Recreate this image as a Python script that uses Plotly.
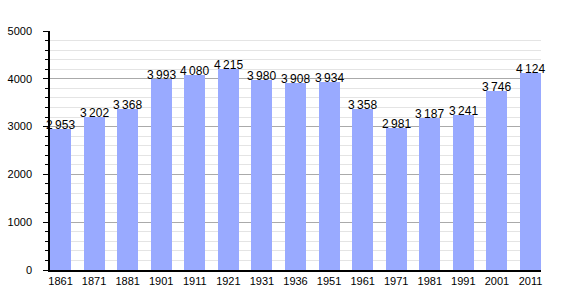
import plotly.graph_objects as go

years = ["1861", "1871", "1881", "1901", "1911", "1921", "1931", "1936", "1951",
         "1961", "1971", "1981", "1991", "2001", "2011"]
population = [2953, 3202, 3368, 3993, 4080, 4215, 3980, 3908, 3934,
              3358, 2981, 3187, 3241, 3746, 4124]
labels = [f"{v:,}".replace(",", "\u2009") for v in population]

bw = 21 / 33.5
xs = list(range(len(years)))
fig = go.Figure()
fig.add_trace(go.Bar(
    x=xs, y=population,
    marker=dict(color="#99AAFF", line=dict(width=0)),
    width=bw, offset=-bw / 2,
))
for x, v, t in zip(xs, population, labels):
    fig.add_annotation(x=x, y=v, text=t, showarrow=False, yanchor="middle",
                       yshift=4, font=dict(family="Liberation Sans, Arial", size=12, color="#000"))
fig.update_layout(
    width=570, height=300,
    margin=dict(l=50, r=29, t=31, b=30),
    plot_bgcolor="white", paper_bgcolor="white",
    showlegend=False,
    font=dict(family="Liberation Sans, Arial", size=11, color="#000"),
    xaxis=dict(
        tickmode="array", tickvals=xs, ticktext=years,
        range=[-bw / 2, len(years) - 1 + bw / 2],
        showgrid=False, showline=True, linecolor="#000", linewidth=1.5,
        ticks="", tickfont=dict(size=11), automargin=False,
    ),
    yaxis=dict(
        range=[0, 5000], tickvals=[0, 1000, 2000, 3000, 4000, 5000],
        showgrid=True, gridcolor="#aaaaaa", gridwidth=1,
        showline=True, linecolor="#000", linewidth=1.5,
        ticks="outside", ticklen=5, tickcolor="#000",
        tickfont=dict(size=11), ticklabelstandoff=9, automargin=False,
        minor=dict(dtick=200, showgrid=True, gridcolor="#e4e4e4",
                   ticks="outside", ticklen=3, tickcolor="#000"),
        zeroline=False,
    ),
    bargap=0,
)
fig.write_html("out.html")
